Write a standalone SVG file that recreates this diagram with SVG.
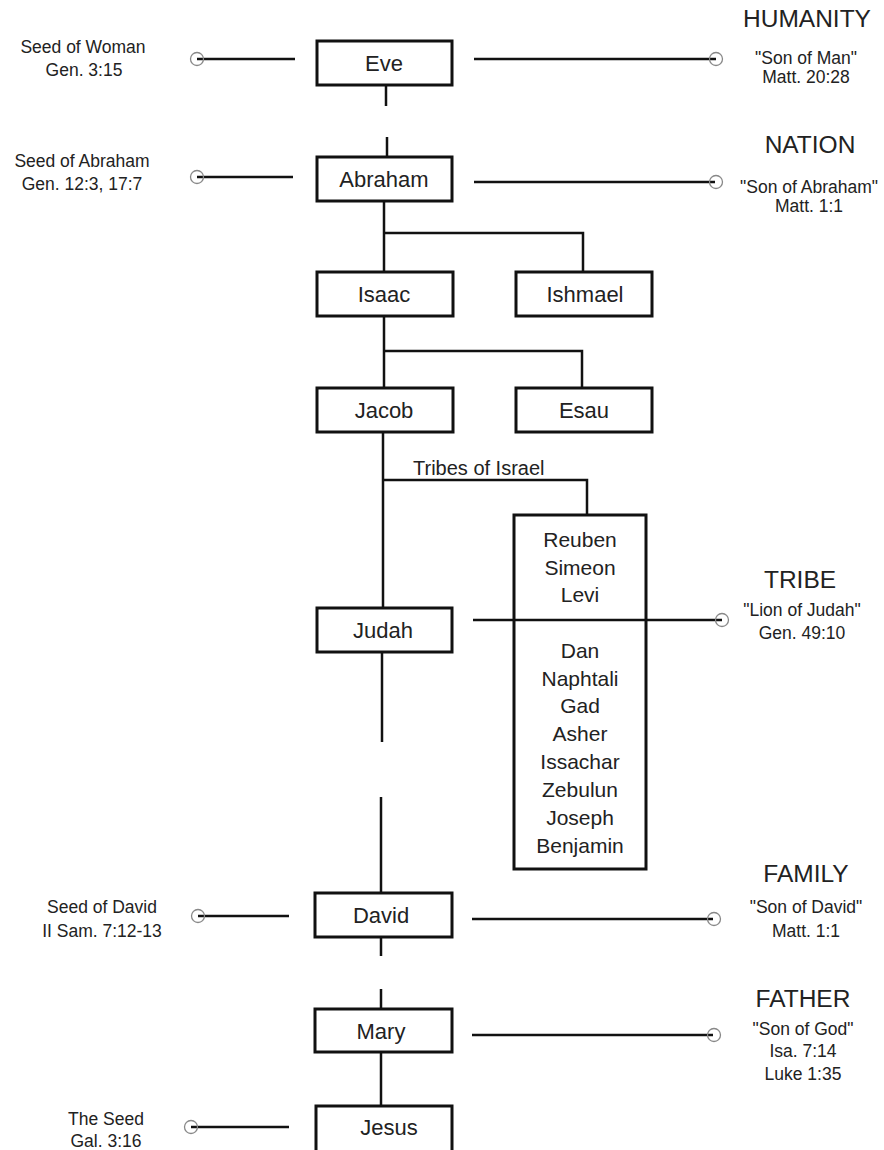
<svg xmlns="http://www.w3.org/2000/svg" width="884" height="1150" viewBox="0 0 884 1150">
<style>
text{font-family:"Liberation Sans",Arial,sans-serif;fill:#222;text-anchor:middle}
.n{font-size:22px}
.m{font-size:21px}
.l{font-size:17.5px}
.h{font-size:24.5px}
.t{font-size:20px;text-anchor:start}
rect{fill:#fff;stroke:#111;stroke-width:3}
.c line,.c path{stroke:#111;stroke-width:2.5;fill:none}
.c circle{fill:none;stroke:#888;stroke-width:1.3}
</style>
<rect x="0" y="0" width="884" height="1150" style="stroke:none"/>
<g class="c" id="connectors">
<line x1="197" y1="59" x2="295" y2="59"/><circle cx="197" cy="59" r="6.5"/>
<line x1="474" y1="59" x2="716" y2="59"/><circle cx="716" cy="59" r="6.5"/>
<line x1="386" y1="85" x2="386" y2="106"/>
<line x1="387" y1="137" x2="387" y2="157"/>
<line x1="197" y1="177" x2="293" y2="177"/><circle cx="197" cy="177" r="6.5"/>
<line x1="474" y1="182" x2="715" y2="182"/><circle cx="716" cy="182" r="6.5"/>
<path d="M384 201V272M384 233H583V272"/>
<path d="M384 316V388M384 351H582V388"/>
<path d="M383 432V608M383 480H587V515"/>
<line x1="473" y1="620" x2="722" y2="620"/><circle cx="722" cy="620" r="6.5"/>
<line x1="382" y1="652" x2="382" y2="742"/>
<line x1="381" y1="797" x2="381" y2="893"/>
<line x1="198" y1="916" x2="289" y2="916"/><circle cx="198" cy="916" r="6.5"/>
<line x1="472" y1="919" x2="713" y2="919"/><circle cx="714" cy="919" r="6.5"/>
<line x1="381" y1="937" x2="381" y2="956"/>
<line x1="381" y1="989" x2="381" y2="1009"/>
<line x1="472" y1="1035" x2="713" y2="1035"/><circle cx="714" cy="1035" r="6.5"/>
<line x1="381" y1="1052" x2="381" y2="1106"/>
<line x1="191" y1="1127" x2="289" y2="1127"/><circle cx="191" cy="1127" r="6.5"/>
</g>
<g id="eve"><rect x="317" y="41" width="135" height="44"/><text class="n" x="384" y="71">Eve</text></g>
<g id="abraham"><rect x="317" y="157" width="135" height="44"/><text class="n" x="384" y="187">Abraham</text></g>
<g id="isaac"><rect x="317" y="272" width="136" height="44"/><text class="n" x="384" y="302">Isaac</text></g>
<g id="ishmael"><rect x="516" y="272" width="136" height="44"/><text class="n" x="585" y="302">Ishmael</text></g>
<g id="jacob"><rect x="317" y="388" width="136" height="44"/><text class="n" x="384" y="418">Jacob</text></g>
<g id="esau"><rect x="516" y="388" width="136" height="44"/><text class="n" x="584" y="418">Esau</text></g>
<g id="tribes-label"><text class="t" x="413" y="475">Tribes of Israel</text></g>
<g id="judah"><rect x="317" y="608" width="135" height="44"/><text class="n" x="383" y="638">Judah</text></g>
<g id="tribes"><rect x="514" y="515" width="132" height="354" style="fill:none"/>
<text class="m" x="580"><tspan x="580" y="547">Reuben</tspan><tspan x="580" y="575">Simeon</tspan><tspan x="580" y="602">Levi</tspan><tspan x="580" y="658">Dan</tspan><tspan x="580" y="686">Naphtali</tspan><tspan x="580" y="713">Gad</tspan><tspan x="580" y="741">Asher</tspan><tspan x="580" y="769">Issachar</tspan><tspan x="580" y="797">Zebulun</tspan><tspan x="580" y="825">Joseph</tspan><tspan x="580" y="853">Benjamin</tspan></text></g>
<g id="david"><rect x="315" y="893" width="137" height="44"/><text class="n" x="381" y="923">David</text></g>
<g id="mary"><rect x="315" y="1009" width="137" height="43"/><text class="n" x="381" y="1039">Mary</text></g>
<g id="jesus"><rect x="316" y="1106" width="136" height="52"/><text class="n" x="389" y="1135">Jesus</text></g>
<g id="left-labels">
<text class="l" x="83" y="53">Seed of Woman</text><text class="l" x="84" y="76">Gen. 3:15</text>
<text class="l" x="82" y="167">Seed of Abraham</text><text class="l" x="82" y="190">Gen. 12:3, 17:7</text>
<text class="l" x="102" y="913">Seed of David</text><text class="l" x="102" y="937">II Sam. 7:12-13</text>
<text class="l" x="106" y="1125">The Seed</text><text class="l" x="106" y="1147">Gal. 3:16</text>
</g>
<g id="right-labels">
<text class="h" x="807" y="27">HUMANITY</text><text class="l" x="806" y="64">"Son of Man"</text><text class="l" x="806" y="83">Matt. 20:28</text>
<text class="h" x="810" y="153">NATION</text><text class="l" x="809" y="193">"Son of Abraham"</text><text class="l" x="809" y="212">Matt. 1:1</text>
<text class="h" x="800" y="588">TRIBE</text><text class="l" x="802" y="616">"Lion of Judah"</text><text class="l" x="802" y="639">Gen. 49:10</text>
<text class="h" x="806" y="882">FAMILY</text><text class="l" x="806" y="913">"Son of David"</text><text class="l" x="806" y="937">Matt. 1:1</text>
<text class="h" x="803" y="1007">FATHER</text><text class="l" x="803" y="1035">"Son of God"</text><text class="l" x="803" y="1057">Isa. 7:14</text><text class="l" x="803" y="1080">Luke 1:35</text>
</g>
</svg>
